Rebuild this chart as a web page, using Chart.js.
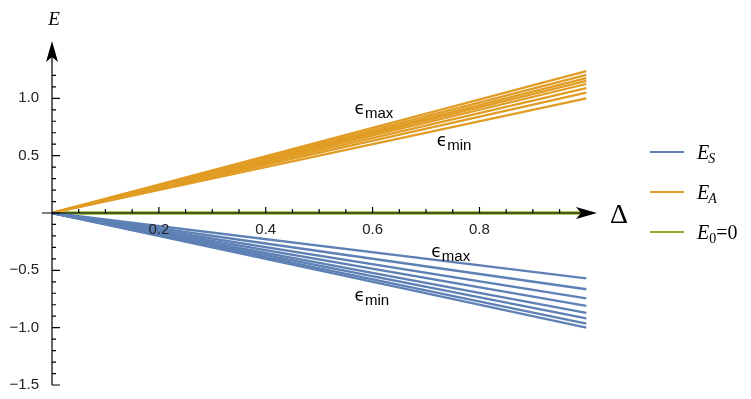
<!DOCTYPE html>
<html>
<head>
<meta charset="utf-8">
<script src="https://cdn.jsdelivr.net/npm/chart.js@4.4.0/dist/chart.umd.min.js"></script>
<style>
html,body{margin:0;padding:0;background:#fff;}
#wrap{width:751px;height:399px;}
</style>
</head>
<body>
<div id="wrap"><canvas id="c" width="751" height="399"></canvas></div>
<script>
// Delta range of every curve, and the value each curve reaches at Delta = 1
const deltaRange = [0, 1];
const eAEnds = [1.0, 1.05, 1.09, 1.125, 1.153, 1.177, 1.205, 1.237];
const eSEnds = [-0.57, -0.665, -0.745, -0.81, -0.87, -0.92, -0.965, -1.0];
const e0Ends = [0, 0];
const xTickLabels = [0.2, 0.4, 0.6, 0.8];
const yTickLabels = [-1.5, -1.0, -0.5, 0.5, 1.0];
const legendNames = [['E', 'S', ''], ['E', 'A', ''], ['E', '0', '=0']];

const colorS = '#5E81B5', colorA = '#E19C24', color0 = '#8FB032';
const legendColors = [colorS, colorA, color0];
const sans = '"Liberation Sans", Arial, sans-serif';
const serif = '"Liberation Serif", "DejaVu Serif", serif';

function seg(v) {
  return [{x: deltaRange[0], y: 0}, {x: deltaRange[1], y: v}];
}

const datasets = [];
eSEnds.forEach(v => datasets.push({data: seg(v), borderColor: colorS, borderWidth: 2.3}));
eAEnds.forEach(v => datasets.push({data: seg(v), borderColor: colorA, borderWidth: 2.3}));
datasets.push({data: [{x: deltaRange[0], y: e0Ends[0]}, {x: deltaRange[1], y: e0Ends[1]}], borderColor: color0, borderWidth: 3.5});

function arrow(ctx, tx, ty, dx, dy) {
  // dx,dy unit direction of the arrow
  const L = 21, W = 6, N = 16;
  const px = -dy, py = dx;
  ctx.beginPath();
  ctx.moveTo(tx, ty);
  ctx.lineTo(tx - dx * L + px * W, ty - dy * L + py * W);
  ctx.lineTo(tx - dx * N, ty - dy * N);
  ctx.lineTo(tx - dx * L - px * W, ty - dy * L - py * W);
  ctx.closePath();
  ctx.fill();
}

function eps(ctx, x, y, sub) {
  ctx.font = '17px "DejaVu Sans", sans-serif';
  ctx.textAlign = 'left';
  ctx.textBaseline = 'alphabetic';
  ctx.fillText('\u03F5', x, y);
  const w = ctx.measureText('\u03F5').width;
  ctx.font = '15px ' + sans;
  ctx.fillText(sub, x + w, y + 4);
}

const decor = {
  id: 'decor',
  afterDatasetsDraw(chart) {
    const {ctx, scales: {x, y}} = chart;
    const x0 = x.getPixelForValue(0), y0 = y.getPixelForValue(0);
    ctx.save();
    ctx.strokeStyle = '#000';
    ctx.fillStyle = '#000';
    ctx.lineWidth = 1.2;
    // axes
    ctx.beginPath();
    ctx.moveTo(x0 - 10, y0);
    ctx.lineTo(x.right - 6, y0);
    ctx.moveTo(x0, y.getPixelForValue(-1.5));
    ctx.lineTo(x0, y.top + 6);
    ctx.stroke();
    // x ticks (pointing up)
    ctx.beginPath();
    for (let k = 1; k <= 19; k++) {
      const px = x.getPixelForValue(k * 0.05);
      const len = k % 4 === 0 ? 6 : 4;
      ctx.moveTo(px, y0);
      ctx.lineTo(px, y0 - len);
    }
    // y ticks (pointing right)
    for (let k = -15; k <= 12; k++) {
      const py = y.getPixelForValue(k * 0.1);
      const len = k % 5 === 0 ? 8 : 4;
      ctx.moveTo(x0, py);
      ctx.lineTo(x0 + len, py);
    }
    ctx.stroke();
    arrow(ctx, x.right, y0, 1, 0);
    arrow(ctx, x0, y.top, 0, -1);
    ctx.restore();
  },
  afterDraw(chart) {
    const {ctx, scales: {x, y}} = chart;
    const x0 = x.getPixelForValue(0), y0 = y.getPixelForValue(0);
    ctx.save();
    ctx.fillStyle = '#000';
    // axis names
    ctx.font = 'italic 19px ' + serif;
    ctx.textAlign = 'center';
    ctx.textBaseline = 'alphabetic';
    ctx.fillText('E', x0 + 2, 25);
    ctx.font = '28px ' + serif;
    ctx.textAlign = 'left';
    ctx.fillText('\u0394', x.right + 13, y0 + 10);
    // epsilon annotations
    eps(ctx, x.getPixelForValue(0.566), y.getPixelForValue(0.86), 'max');
    eps(ctx, x.getPixelForValue(0.72), y.getPixelForValue(0.58), 'min');
    eps(ctx, x.getPixelForValue(0.71), y.getPixelForValue(-0.38), 'max');
    eps(ctx, x.getPixelForValue(0.566), y.getPixelForValue(-0.765), 'min');
    // legend
    legendNames.forEach((nm, i) => {
      const ly = 152 + i * 40;
      ctx.strokeStyle = legendColors[i];
      ctx.lineWidth = 2;
      ctx.beginPath();
      ctx.moveTo(650, ly);
      ctx.lineTo(684, ly);
      ctx.stroke();
      ctx.fillStyle = '#000';
      ctx.font = 'italic 20px ' + serif;
      ctx.fillText(nm[0], 697, ly + 7);
      let w = ctx.measureText(nm[0]).width;
      const subItalic = nm[1] !== '0';
      ctx.font = (subItalic ? 'italic ' : '') + '14px ' + serif;
      ctx.fillText(nm[1], 697 + w - (subItalic ? 1 : 0), ly + 11);
      w += ctx.measureText(nm[1]).width;
      if (nm[2]) {
        ctx.font = '20px ' + serif;
        ctx.fillText(nm[2], 697 + w, ly + 7);
      }
    });
    ctx.restore();
  }
};

new Chart(document.getElementById('c'), {
  type: 'line',
  data: {datasets: datasets},
  options: {
    responsive: false,
    animation: false,
    elements: {point: {radius: 0}, line: {tension: 0}},
    layout: {padding: {top: 41, right: 154, bottom: 5, left: 0}},
    plugins: {legend: {display: false}, tooltip: {enabled: false}},
    scales: {
      x: {
        type: 'linear',
        position: {y: 0},
        min: 0,
        max: 1.02,
        grid: {display: false},
        border: {display: false},
        ticks: {
          z: 1,
          stepSize: 0.05,
          autoSkip: false,
          maxRotation: 0,
          padding: 0,
          color: '#222',
          font: {family: sans, size: 15},
          callback: v => xTickLabels.includes(Math.round(v * 100) / 100) ? v.toFixed(1) : ''
        }
      },
      y: {
        type: 'linear',
        min: -1.5,
        max: 1.5,
        grid: {display: false},
        border: {display: false},
        afterFit: s => { s.width = 52; },
        ticks: {
          stepSize: 0.5,
          padding: 5,
          color: '#222',
          font: {family: sans, size: 15},
          callback: v => yTickLabels.includes(Math.round(v * 10) / 10) ? (v < 0 ? '\u2212' : '') + Math.abs(v).toFixed(1) : ''
        }
      }
    }
  },
  plugins: [decor]
});
</script>
</body>
</html>
